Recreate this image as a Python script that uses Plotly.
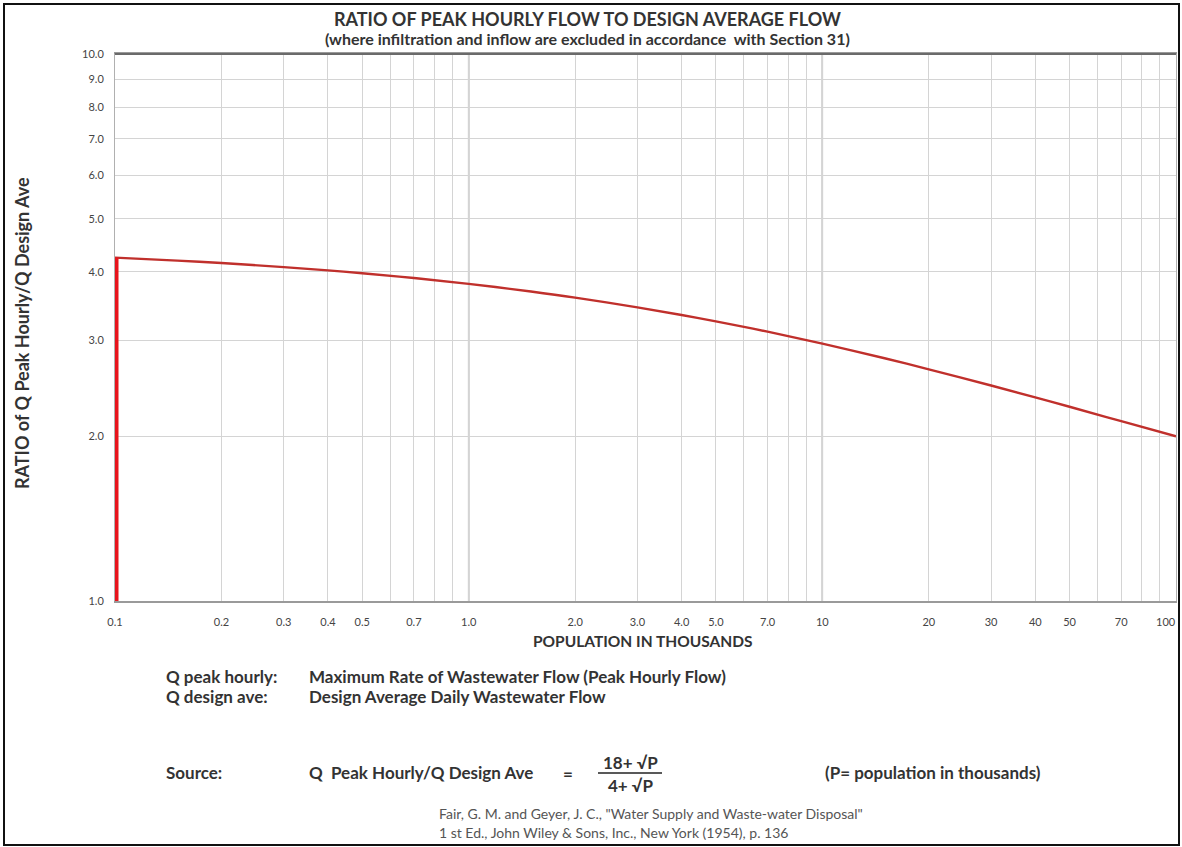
import plotly.graph_objects as go
import math

# ---- data ----
population = [0.1, 0.15, 0.2, 0.3, 0.4, 0.5, 0.7, 1.0, 1.5, 2.0, 3.0, 4.0, 5.0, 7.0,
              10, 15, 20, 30, 40, 50, 70, 100]
ratio = [4.244, 4.191, 4.148, 4.078, 4.022, 3.974, 3.894, 3.800, 3.679, 3.586, 3.442, 3.333,
         3.245, 3.107, 2.955, 2.778, 2.652, 2.477, 2.356, 2.265, 2.132, 2.000]
start_bar_x = [0.1, 0.1]
start_bar_y = [1.0, 4.244]

x_tick_vals = [0.1, 0.2, 0.3, 0.4, 0.5, 0.6, 0.7, 0.8, 0.9, 1.0, 2.0, 3.0, 4.0, 5.0, 6.0, 7.0,
               8.0, 9.0, 10, 20, 30, 40, 50, 60, 70, 80, 90, 100]
x_tick_text = ["0.1", "0.2", "0.3", "0.4", "0.5", "", "0.7", "", "", "1.0", "2.0", "3.0",
               "4.0", "5.0", "", "7.0", "", "", "10", "20", "30", "40", "50", "", "70", "",
               "", ""]
last_x_label = "100"
y_tick_vals = [1, 2, 3, 4, 5, 6, 7, 8, 9, 10]
y_tick_text = ["1.0", "2.0", "3.0", "4.0", "5.0", "6.0", "7.0", "8.0", "9.0", "10.0"]
major_x = [1.0, 10]

W, H = 1182, 847
L, R, T, B = 115, 6, 54, 246
PW, PH = W - L - R, H - T - B


def px(x):
    return (x - L) / PW


def py(y):
    return (H - B - y) / PH


FONT = "Lato"
DARK = "#333333"

fig = go.Figure()
fig.add_trace(go.Scatter(x=population, y=ratio, mode="lines",
                         line=dict(color="#c0302c", width=2.4, shape="spline"),
                         showlegend=False, hoverinfo="x+y"))
fig.add_trace(go.Scatter(x=start_bar_x, y=start_bar_y, mode="lines",
                         line=dict(color="#e8141c", width=7),
                         showlegend=False, hoverinfo="skip"))

shapes = []
for xv in major_x:
    shapes.append(dict(type="line", xref="x", yref="paper", x0=xv, x1=xv, y0=0, y1=1,
                       line=dict(color="#a0a0a0", width=1.5), layer="below"))
shapes.append(dict(type="line", xref="paper", yref="paper", x0=0, x1=1, y0=1, y1=1,
                   line=dict(color="#6a6a6a", width=2)))
shapes.append(dict(type="rect", xref="paper", yref="paper", x0=px(4), x1=px(1179),
                   y0=py(845), y1=py(4), line=dict(color="#111111", width=2)))
shapes.append(dict(type="line", xref="paper", yref="paper", x0=px(598), x1=px(662),
                   y0=py(773), y1=py(773), line=dict(color="#222222", width=1.5)))

ann = []


def text(x, y, s, size, bold=True, color=DARK, xanchor="left", angle=0):
    ann.append(dict(x=px(x), y=py(y), xref="paper", yref="paper",
                    text=(f"<b>{s}</b>" if bold else s),
                    showarrow=False, xanchor=xanchor, yanchor="middle", textangle=angle,
                    font=dict(family=FONT, size=size, color=color)))


BODY = 17
text(587, 19, "RATIO OF PEAK HOURLY FLOW TO DESIGN AVERAGE FLOW", 18, xanchor="center")
text(587, 38, "(where infiltration and inflow are excluded in accordance  with Section 31)", 16,
     xanchor="center")
text(642, 641, "POPULATION IN THOUSANDS", 15.5, xanchor="center")
text(22, 333, "RATIO of Q Peak Hourly/Q Design Ave", 18, xanchor="center", angle=-90)
text(164, 676, "Q peak hourly:", BODY)
text(307, 676, "Maximum Rate of Wastewater Flow (Peak Hourly Flow)", BODY)
text(164, 696, "Q design ave:", BODY)
text(307, 696, "Design Average Daily Wastewater Flow", BODY)
text(164, 772, "Source:", BODY)
text(307, 772, "Q  Peak Hourly/Q Design Ave", BODY)
text(568, 773, "=", BODY, xanchor="center")
text(630, 762, "18+ √P", BODY, xanchor="center")
text(630, 785, "4+ √P", BODY, xanchor="center")
text(823, 772, "(P= population in thousands)", BODY)
text(437, 813, "Fair, G. M. and Geyer, J. C., \"Water Supply and Waste-water Disposal\"", 14,
     bold=False, color="#555555")
text(437, 832, "1 st Ed., John Wiley &amp; Sons, Inc., New York (1954), p. 136", 14,
     bold=False, color="#555555")

TICKFONT = dict(family=FONT, size=11, color="#444444")
ann.append(dict(x=px(1166), y=py(621), xref="paper", yref="paper", text=last_x_label,
                showarrow=False, xanchor="center", yanchor="middle", font=TICKFONT))

fig.update_layout(
    width=W, height=H, margin=dict(l=L, r=R, t=T, b=B, autoexpand=False),
    paper_bgcolor="white", plot_bgcolor="white",
    shapes=shapes, annotations=ann, showlegend=False,
    xaxis=dict(type="log", range=[math.log10(0.1), math.log10(100)], tickvals=x_tick_vals,
               ticktext=x_tick_text, showgrid=True, gridcolor="#d4d4d4", gridwidth=1,
               ticks="outside", ticklen=10, tickcolor="rgba(0,0,0,0)", tickfont=TICKFONT,
               showline=True, linecolor="#9a9a9a", linewidth=2, mirror=True, zeroline=False),
    yaxis=dict(type="log", range=[0, 1], tickvals=y_tick_vals, ticktext=y_tick_text,
               showgrid=True, gridcolor="#d4d4d4", gridwidth=1, ticks="outside", ticklen=8,
               tickcolor="rgba(0,0,0,0)", tickfont=TICKFONT,
               showline=True, linecolor="#b0b0b0", linewidth=1, mirror=True, zeroline=False),
)
fig.write_html("out.html", post_script="document.body.style.margin='0';",
               config={"displayModeBar": False})
